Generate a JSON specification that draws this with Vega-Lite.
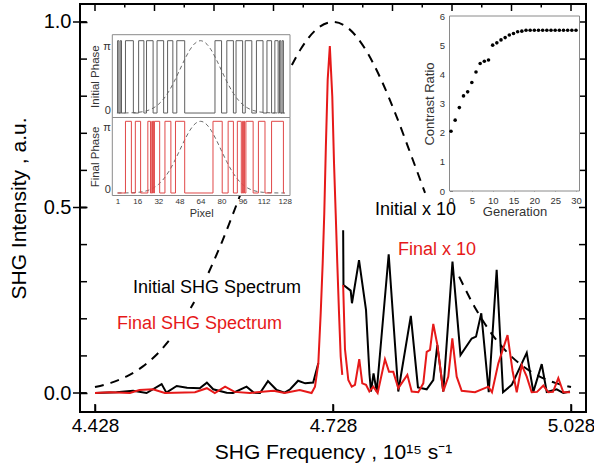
{
  "$schema": "https://vega.github.io/schema/vega-lite/v6.json",
  "width": 506,
  "height": 408,
  "autosize": "none",
  "padding": {"left": 80, "top": 4, "right": 8, "bottom": 51},
  "background": "white",
  "config": {
    "view": {"stroke": "black", "strokeWidth": 2},
    "font": "Liberation Sans",
    "axis": {"zindex": 1, "grid": false, "domain": false, "ticks": true, "labelFont": "Liberation Sans", "titleFont": "Liberation Sans", "titleFontWeight": "normal", "labelColor": "black", "titleColor": "black", "tickColor": "black"}
  },
  "datasets": {
    "spec": [
      {"series": "Initial", "f": 4.428, "v": 0}, {"series": "Initial", "f": 4.455, "v": 0.002}, {"series": "Initial", "f": 4.476, "v": 0.006}, {"series": "Initial", "f": 4.493, "v": 0}, {"series": "Initial", "f": 4.512, "v": 0.024}, {"series": "Initial", "f": 4.518, "v": 0.001}, {"series": "Initial", "f": 4.531, "v": 0.019}, {"series": "Initial", "f": 4.544, "v": 0.014}, {"series": "Initial", "f": 4.56, "v": 0.013}, {"series": "Initial", "f": 4.569, "v": 0.028}, {"series": "Initial", "f": 4.577, "v": 0.01}, {"series": "Initial", "f": 4.594, "v": 0.001}, {"series": "Initial", "f": 4.602, "v": 0}, {"series": "Initial", "f": 4.619, "v": 0.017}, {"series": "Initial", "f": 4.628, "v": 0.001}, {"series": "Initial", "f": 4.636, "v": 0}, {"series": "Initial", "f": 4.646, "v": 0.032}, {"series": "Initial", "f": 4.657, "v": 0.008}, {"series": "Initial", "f": 4.667, "v": 0.001}, {"series": "Initial", "f": 4.674, "v": 0.01}, {"series": "Initial", "f": 4.684, "v": 0.033}, {"series": "Initial", "f": 4.693, "v": 0.026}, {"series": "Initial", "f": 4.703, "v": 0.028}, {"series": "Initial", "f": 4.7095, "v": 0.08},
      {"series": "Initial x 10", "f": 4.7408, "v": 0.439}, {"series": "Initial x 10", "f": 4.7412, "v": 0.291}, {"series": "Initial x 10", "f": 4.7503, "v": 0.276}, {"series": "Initial x 10", "f": 4.7519, "v": 0.242}, {"series": "Initial x 10", "f": 4.7608, "v": 0.358}, {"series": "Initial x 10", "f": 4.7696, "v": 0.224}, {"series": "Initial x 10", "f": 4.774, "v": 0.05}, {"series": "Initial x 10", "f": 4.7759, "v": 0.004}, {"series": "Initial x 10", "f": 4.7791, "v": 0.053}, {"series": "Initial x 10", "f": 4.7831, "v": 0.004}, {"series": "Initial x 10", "f": 4.7982, "v": 0.374}, {"series": "Initial x 10", "f": 4.8103, "v": 0.004}, {"series": "Initial x 10", "f": 4.8261, "v": 0.208}, {"series": "Initial x 10", "f": 4.8351, "v": 0.015}, {"series": "Initial x 10", "f": 4.8461, "v": 0.01}, {"series": "Initial x 10", "f": 4.8544, "v": 0.035}, {"series": "Initial x 10", "f": 4.8595, "v": 0.129}, {"series": "Initial x 10", "f": 4.867, "v": 0.004}, {"series": "Initial x 10", "f": 4.8786, "v": 0.354}, {"series": "Initial x 10", "f": 4.8887, "v": 0.102}, {"series": "Initial x 10", "f": 4.9028, "v": 0.147}, {"series": "Initial x 10", "f": 4.9083, "v": 0.152}, {"series": "Initial x 10", "f": 4.9149, "v": 0.215}, {"series": "Initial x 10", "f": 4.9243, "v": 0.002}, {"series": "Initial x 10", "f": 4.9343, "v": 0.332}, {"series": "Initial x 10", "f": 4.9423, "v": 0.002}, {"series": "Initial x 10", "f": 4.9533, "v": 0.022}, {"series": "Initial x 10", "f": 4.9722, "v": 0.108}, {"series": "Initial x 10", "f": 4.9805, "v": 0.003}, {"series": "Initial x 10", "f": 4.9911, "v": 0.078}, {"series": "Initial x 10", "f": 4.9974, "v": 0.003}, {"series": "Initial x 10", "f": 5.01, "v": 0.01}, {"series": "Initial x 10", "f": 5.0183, "v": 0}, {"series": "Initial x 10", "f": 5.0267, "v": 0.004},
      {"series": "Final", "f": 4.428, "v": 0}, {"series": "Final", "f": 4.447, "v": 0.002}, {"series": "Final", "f": 4.472, "v": 0}, {"series": "Final", "f": 4.484, "v": 0.008}, {"series": "Final", "f": 4.501, "v": 0.01}, {"series": "Final", "f": 4.516, "v": 0}, {"series": "Final", "f": 4.554, "v": 0.002}, {"series": "Final", "f": 4.569, "v": 0.013}, {"series": "Final", "f": 4.579, "v": 0}, {"series": "Final", "f": 4.592, "v": 0.017}, {"series": "Final", "f": 4.604, "v": 0.003}, {"series": "Final", "f": 4.623, "v": 0}, {"series": "Final", "f": 4.653, "v": 0.006}, {"series": "Final", "f": 4.667, "v": 0}, {"series": "Final", "f": 4.686, "v": 0.008}, {"series": "Final", "f": 4.701, "v": 0}, {"series": "Final", "f": 4.7053, "v": 0.017}, {"series": "Final", "f": 4.7095, "v": 0.08}, {"series": "Final", "f": 4.7125, "v": 0.215}, {"series": "Final", "f": 4.715, "v": 0.35}, {"series": "Final", "f": 4.717, "v": 0.484}, {"series": "Final", "f": 4.719, "v": 0.664}, {"series": "Final", "f": 4.7213, "v": 0.844}, {"series": "Final", "f": 4.724, "v": 0.935}, {"series": "Final", "f": 4.7271, "v": 0.799}, {"series": "Final", "f": 4.7293, "v": 0.619}, {"series": "Final", "f": 4.7314, "v": 0.484}, {"series": "Final", "f": 4.7334, "v": 0.35}, {"series": "Final", "f": 4.7356, "v": 0.215}, {"series": "Final", "f": 4.7377, "v": 0.098}, {"series": "Final", "f": 4.7397, "v": 0.049},
      {"series": "Final x 10", "f": 4.7408, "v": 0.291}, {"series": "Final x 10", "f": 4.7431, "v": 0.118}, {"series": "Final x 10", "f": 4.7473, "v": 0.035}, {"series": "Final x 10", "f": 4.7516, "v": 0.017}, {"series": "Final x 10", "f": 4.7557, "v": 0.022}, {"series": "Final x 10", "f": 4.7611, "v": 0.091}, {"series": "Final x 10", "f": 4.7649, "v": 0.026}, {"series": "Final x 10", "f": 4.7696, "v": 0.022}, {"series": "Final x 10", "f": 4.7738, "v": 0.004}, {"series": "Final x 10", "f": 4.7788, "v": 0.017}, {"series": "Final x 10", "f": 4.7843, "v": 0}, {"series": "Final x 10", "f": 4.7935, "v": 0.091}, {"series": "Final x 10", "f": 4.7986, "v": 0.057}, {"series": "Final x 10", "f": 4.804, "v": 0.057}, {"series": "Final x 10", "f": 4.8103, "v": 0.013}, {"series": "Final x 10", "f": 4.8217, "v": 0.049}, {"series": "Final x 10", "f": 4.8272, "v": 0.004}, {"series": "Final x 10", "f": 4.8355, "v": 0.002}, {"series": "Final x 10", "f": 4.8418, "v": 0.026}, {"series": "Final x 10", "f": 4.8461, "v": 0.111}, {"series": "Final x 10", "f": 4.8503, "v": 0.116}, {"series": "Final x 10", "f": 4.8544, "v": 0.186}, {"series": "Final x 10", "f": 4.8595, "v": 0.13}, {"series": "Final x 10", "f": 4.867, "v": 0.004}, {"series": "Final x 10", "f": 4.8733, "v": 0.044}, {"series": "Final x 10", "f": 4.8784, "v": 0.147}, {"series": "Final x 10", "f": 4.8839, "v": 0.044}, {"series": "Final x 10", "f": 4.8902, "v": 0.006}, {"series": "Final x 10", "f": 4.907, "v": 0.002}, {"series": "Final x 10", "f": 4.9238, "v": 0.017}, {"series": "Final x 10", "f": 4.9284, "v": 0.002}, {"series": "Final x 10", "f": 4.9364, "v": 0.08}, {"series": "Final x 10", "f": 4.948, "v": 0.156}, {"series": "Final x 10", "f": 4.9543, "v": 0.06}, {"series": "Final x 10", "f": 4.9596, "v": 0.002}, {"series": "Final x 10", "f": 4.9659, "v": 0.075}, {"series": "Final x 10", "f": 4.9722, "v": 0.044}, {"series": "Final x 10", "f": 4.9784, "v": 0.002}, {"series": "Final x 10", "f": 4.9852, "v": 0.003}, {"series": "Final x 10", "f": 4.9931, "v": 0.02}, {"series": "Final x 10", "f": 4.9994, "v": 0.002}, {"series": "Final x 10", "f": 5.0053, "v": 0.003}, {"series": "Final x 10", "f": 5.012, "v": 0.04}, {"series": "Final x 10", "f": 5.0183, "v": 0.002}, {"series": "Final x 10", "f": 5.0267, "v": 0.002}
    ],
    "gauss": [
      {"seg": 1, "f": 4.428, "v": 0.0161}, {"seg": 1, "f": 4.448, "v": 0.0274}, {"seg": 1, "f": 4.468, "v": 0.045}, {"seg": 1, "f": 4.488, "v": 0.0712}, {"seg": 1, "f": 4.508, "v": 0.1086}, {"seg": 1, "f": 4.525, "v": 0.151},
      {"seg": 2, "f": 4.5487, "v": 0.229}, {"seg": 2, "f": 4.553, "v": 0.2453},
      {"seg": 3, "f": 4.571, "v": 0.3235}, {"seg": 3, "f": 4.588, "v": 0.4069}, {"seg": 3, "f": 4.608, "v": 0.5166}, {"seg": 3, "f": 4.628, "v": 0.6321}, {"seg": 3, "f": 4.648, "v": 0.7456}, {"seg": 3, "f": 4.668, "v": 0.8478}, {"seg": 3, "f": 4.688, "v": 0.9292}, {"seg": 3, "f": 4.708, "v": 0.9818}, {"seg": 3, "f": 4.728, "v": 1.0}, {"seg": 3, "f": 4.748, "v": 0.9818}, {"seg": 3, "f": 4.768, "v": 0.9292}, {"seg": 3, "f": 4.788, "v": 0.8478}, {"seg": 3, "f": 4.808, "v": 0.7456}, {"seg": 3, "f": 4.828, "v": 0.6321}, {"seg": 3, "f": 4.844, "v": 0.5394},
      {"seg": 4, "f": 4.887, "v": 0.3136}, {"seg": 4, "f": 4.908, "v": 0.2263}, {"seg": 4, "f": 4.928, "v": 0.1596}, {"seg": 4, "f": 4.948, "v": 0.1086}, {"seg": 4, "f": 4.968, "v": 0.0712}, {"seg": 4, "f": 4.988, "v": 0.045}, {"seg": 4, "f": 5.008, "v": 0.0274}, {"seg": 4, "f": 5.028, "v": 0.0161}
    ],
    "labels": [
      {"text": "Initial SHG Spectrum", "f": 4.4759, "v": 0.2695, "kind": "Initial"},
      {"text": "Final SHG Spectrum", "f": 4.4557, "v": 0.1725, "kind": "Final"},
      {"text": "Initial x 10", "f": 4.7809, "v": 0.4798, "kind": "Initial"},
      {"text": "Final x 10", "f": 4.8099, "v": 0.372, "kind": "Final"}
    ],
    "tickBottom": [{"f": 4.428, "v": -0.0512}, {"f": 4.728, "v": -0.0512}, {"f": 5.028, "v": -0.0512}],
    "tickTopMajor": [{"f": 4.428, "v": 1.0485}, {"f": 4.503, "v": 1.0485}, {"f": 4.578, "v": 1.0485}, {"f": 4.653, "v": 1.0485}, {"f": 4.728, "v": 1.0485}, {"f": 4.803, "v": 1.0485}, {"f": 4.878, "v": 1.0485}, {"f": 4.953, "v": 1.0485}, {"f": 5.028, "v": 1.0485}],
    "tickTopMinor": [{"f": 4.4655, "v": 1.0485}, {"f": 4.5405, "v": 1.0485}, {"f": 4.6155, "v": 1.0485}, {"f": 4.6905, "v": 1.0485}, {"f": 4.7655, "v": 1.0485}, {"f": 4.8405, "v": 1.0485}, {"f": 4.9155, "v": 1.0485}, {"f": 4.9905, "v": 1.0485}],
    "tickLeft": [{"f": 4.4091, "v": 0}, {"f": 4.4091, "v": 0.1}, {"f": 4.4091, "v": 0.2}, {"f": 4.4091, "v": 0.3}, {"f": 4.4091, "v": 0.4}, {"f": 4.4091, "v": 0.5}, {"f": 4.4091, "v": 0.6}, {"f": 4.4091, "v": 0.7}, {"f": 4.4091, "v": 0.8}, {"f": 4.4091, "v": 0.9}, {"f": 4.4091, "v": 1.0}],
    "tickLeftMajor": [{"f": 4.4091, "v": 0}, {"f": 4.4091, "v": 0.5}, {"f": 4.4091, "v": 1.0}],
    "tickRight": [{"f": 5.0469, "v": 0}, {"f": 5.0469, "v": 0.1}, {"f": 5.0469, "v": 0.2}, {"f": 5.0469, "v": 0.3}, {"f": 5.0469, "v": 0.4}, {"f": 5.0469, "v": 0.5}, {"f": 5.0469, "v": 0.6}, {"f": 5.0469, "v": 0.7}, {"f": 5.0469, "v": 0.8}, {"f": 5.0469, "v": 0.9}, {"f": 5.0469, "v": 1.0}],
    "gaussPix": [
      {"p": 1, "g": 0.0003}, {"p": 8, "g": 0.0015}, {"p": 16, "g": 0.0083}, {"p": 20, "g": 0.0178}, {"p": 24, "g": 0.0358}, {"p": 28, "g": 0.0674}, {"p": 32, "g": 0.1187}, {"p": 36, "g": 0.1956}, {"p": 40, "g": 0.3016}, {"p": 44, "g": 0.435}, {"p": 48, "g": 0.587}, {"p": 52, "g": 0.741}, {"p": 56, "g": 0.875}, {"p": 60, "g": 0.967}, {"p": 64, "g": 1.0}, {"p": 68, "g": 0.967}, {"p": 72, "g": 0.875}, {"p": 76, "g": 0.741}, {"p": 80, "g": 0.587}, {"p": 84, "g": 0.435}, {"p": 88, "g": 0.3016}, {"p": 92, "g": 0.1956}, {"p": 96, "g": 0.1187}, {"p": 100, "g": 0.0674}, {"p": 104, "g": 0.0358}, {"p": 108, "g": 0.0178}, {"p": 112, "g": 0.0083}, {"p": 120, "g": 0.0015}, {"p": 128, "g": 0.0002}
    ],
    "phaseInit": [
      {"p": 0.5, "v": 0}, {"p": 1, "v": 1}, {"p": 2, "v": 0}, {"p": 3, "v": 1}, {"p": 4, "v": 0}, {"p": 7, "v": 1}, {"p": 13, "v": 0}, {"p": 17, "v": 1}, {"p": 21, "v": 0}, {"p": 23, "v": 1}, {"p": 28, "v": 0}, {"p": 31, "v": 1}, {"p": 36, "v": 0}, {"p": 39, "v": 1}, {"p": 43, "v": 0}, {"p": 46, "v": 1}, {"p": 52, "v": 0}, {"p": 75, "v": 1}, {"p": 80, "v": 0}, {"p": 84, "v": 1}, {"p": 89, "v": 0}, {"p": 91, "v": 1}, {"p": 96, "v": 0}, {"p": 98, "v": 1}, {"p": 103, "v": 0}, {"p": 106.5, "v": 1}, {"p": 111.5, "v": 0}, {"p": 114.5, "v": 1}, {"p": 118, "v": 0}, {"p": 120.5, "v": 1}, {"p": 123, "v": 0}, {"p": 124, "v": 1}, {"p": 125, "v": 0}, {"p": 126, "v": 1}, {"p": 127, "v": 0}, {"p": 128, "v": 0}
    ],
    "phaseFinal": [
      {"p": 1, "v": 0}, {"p": 7, "v": 1}, {"p": 11.5, "v": 0}, {"p": 14.5, "v": 1}, {"p": 18.5, "v": 0}, {"p": 24, "v": 1}, {"p": 26, "v": 0}, {"p": 27, "v": 1}, {"p": 27.5, "v": 0}, {"p": 28, "v": 1}, {"p": 28.5, "v": 0}, {"p": 29, "v": 1}, {"p": 33, "v": 0}, {"p": 37, "v": 1}, {"p": 41.5, "v": 0}, {"p": 45, "v": 1}, {"p": 52, "v": 0}, {"p": 73.5, "v": 1}, {"p": 80.5, "v": 0}, {"p": 85, "v": 1}, {"p": 89, "v": 0}, {"p": 92, "v": 1}, {"p": 95, "v": 0}, {"p": 96, "v": 1}, {"p": 96.5, "v": 0}, {"p": 97, "v": 1}, {"p": 97.5, "v": 0}, {"p": 98.5, "v": 1}, {"p": 104, "v": 0}, {"p": 108, "v": 1}, {"p": 113, "v": 0}, {"p": 118, "v": 1}, {"p": 127, "v": 0}, {"p": 128, "v": 0}
    ],
    "contrast": [
      {"gen": 0, "ratio": 2.05}, {"gen": 1, "ratio": 2.43}, {"gen": 2, "ratio": 2.86}, {"gen": 3, "ratio": 3.26}, {"gen": 4, "ratio": 3.4}, {"gen": 5, "ratio": 3.72}, {"gen": 6, "ratio": 4.08}, {"gen": 7, "ratio": 4.37}, {"gen": 8, "ratio": 4.45}, {"gen": 9, "ratio": 4.49}, {"gen": 10, "ratio": 5.0}, {"gen": 11, "ratio": 5.08}, {"gen": 12, "ratio": 5.18}, {"gen": 13, "ratio": 5.26}, {"gen": 14, "ratio": 5.35}, {"gen": 15, "ratio": 5.4}, {"gen": 16, "ratio": 5.46}, {"gen": 17, "ratio": 5.48}, {"gen": 18, "ratio": 5.51}, {"gen": 19, "ratio": 5.51}, {"gen": 20, "ratio": 5.51}, {"gen": 21, "ratio": 5.51}, {"gen": 22, "ratio": 5.51}, {"gen": 23, "ratio": 5.51}, {"gen": 24, "ratio": 5.51}, {"gen": 25, "ratio": 5.51}, {"gen": 26, "ratio": 5.51}, {"gen": 27, "ratio": 5.51}, {"gen": 28, "ratio": 5.51}, {"gen": 29, "ratio": 5.51}, {"gen": 30, "ratio": 5.51}
    ]
  },
  "layer": [
    {
      "data": {"name": "gauss"},
      "mark": {"type": "line", "color": "black", "strokeWidth": 2, "strokeDash": [9, 7], "interpolate": "monotone"},
      "encoding": {
        "x": {"field": "f", "type": "quantitative", "scale": {"domain": [4.4091, 5.0469], "nice": false, "zero": false},
              "axis": {"orient": "bottom", "offset": -8, "values": [4.428, 4.728, 5.028], "format": ".3f", "tickSize": 8, "tickWidth": 1.5, "labelFontSize": 19, "labelPadding": 4, "title": "SHG Frequency , 10¹⁵ s⁻¹", "titleFontSize": 21, "titlePadding": 6}},
        "y": {"field": "v", "type": "quantitative", "scale": {"domain": [-0.0512, 1.0485], "nice": false, "zero": false},
              "axis": {"orient": "left", "offset": -7, "values": [0, 0.5, 1], "format": ".1f", "tickSize": 7, "tickWidth": 1.5, "labelFontSize": 20, "labelPadding": 9, "title": "SHG Intensity , a.u.", "titleFontSize": 21, "titlePadding": 14}},
        "detail": {"field": "seg"}
      }
    },
    {
      "data": {"name": "tickBottom"},
      "mark": {"type": "point", "shape": "stroke", "filled": false, "angle": 90, "size": 64, "strokeWidth": 1.5, "color": "black", "opacity": 1, "yOffset": -4},
      "encoding": {
        "x": {"field": "f", "type": "quantitative", "scale": {"domain": [4.4091, 5.0469], "nice": false, "zero": false}, "axis": null},
        "y": {"field": "v", "type": "quantitative", "scale": {"domain": [-0.0512, 1.0485], "nice": false, "zero": false}, "axis": null}
      }
    },
    {
      "data": {"name": "tickTopMajor"},
      "mark": {"type": "point", "shape": "stroke", "filled": false, "angle": 90, "size": 49, "strokeWidth": 1.5, "color": "black", "opacity": 1, "yOffset": 3.5},
      "encoding": {
        "x": {"field": "f", "type": "quantitative", "scale": {"domain": [4.4091, 5.0469], "nice": false, "zero": false}, "axis": null},
        "y": {"field": "v", "type": "quantitative", "scale": {"domain": [-0.0512, 1.0485], "nice": false, "zero": false}, "axis": null}
      }
    },
    {
      "data": {"name": "tickTopMinor"},
      "mark": {"type": "point", "shape": "stroke", "filled": false, "angle": 90, "size": 12.25, "strokeWidth": 1.5, "color": "black", "opacity": 1, "yOffset": 1.75},
      "encoding": {
        "x": {"field": "f", "type": "quantitative", "scale": {"domain": [4.4091, 5.0469], "nice": false, "zero": false}, "axis": null},
        "y": {"field": "v", "type": "quantitative", "scale": {"domain": [-0.0512, 1.0485], "nice": false, "zero": false}, "axis": null}
      }
    },
    {
      "data": {"name": "tickLeft"},
      "mark": {"type": "point", "shape": "stroke", "filled": false, "size": 49, "strokeWidth": 1.5, "color": "black", "opacity": 1, "xOffset": 3.5},
      "encoding": {
        "x": {"field": "f", "type": "quantitative", "scale": {"domain": [4.4091, 5.0469], "nice": false, "zero": false}, "axis": null},
        "y": {"field": "v", "type": "quantitative", "scale": {"domain": [-0.0512, 1.0485], "nice": false, "zero": false}, "axis": null}
      }
    },
    {
      "data": {"name": "tickLeftMajor"},
      "mark": {"type": "point", "shape": "stroke", "filled": false, "size": 169, "strokeWidth": 1.5, "color": "black", "opacity": 1, "xOffset": -0.5},
      "encoding": {
        "x": {"field": "f", "type": "quantitative", "scale": {"domain": [4.4091, 5.0469], "nice": false, "zero": false}, "axis": null},
        "y": {"field": "v", "type": "quantitative", "scale": {"domain": [-0.0512, 1.0485], "nice": false, "zero": false}, "axis": null}
      }
    },
    {
      "data": {"name": "tickRight"},
      "mark": {"type": "point", "shape": "stroke", "filled": false, "size": 49, "strokeWidth": 1.5, "color": "black", "opacity": 1, "xOffset": -3.5},
      "encoding": {
        "x": {"field": "f", "type": "quantitative", "scale": {"domain": [4.4091, 5.0469], "nice": false, "zero": false}, "axis": null},
        "y": {"field": "v", "type": "quantitative", "scale": {"domain": [-0.0512, 1.0485], "nice": false, "zero": false}, "axis": null}
      }
    },
    {
      "data": {"name": "spec"},
      "transform": [{"filter": {"field": "series", "oneOf": ["Initial", "Initial x 10"]}}],
      "mark": {"type": "line", "color": "black", "strokeWidth": 2},
      "encoding": {
        "x": {"field": "f", "type": "quantitative", "scale": {"domain": [4.4091, 5.0469], "nice": false, "zero": false}, "axis": null},
        "y": {"field": "v", "type": "quantitative", "scale": {"domain": [-0.0512, 1.0485], "nice": false, "zero": false}, "axis": null},
        "detail": {"field": "series"}
      }
    },
    {
      "data": {"name": "spec"},
      "transform": [{"filter": {"field": "series", "oneOf": ["Final", "Final x 10"]}}],
      "mark": {"type": "line", "color": "#e61919", "strokeWidth": 2},
      "encoding": {
        "x": {"field": "f", "type": "quantitative", "scale": {"domain": [4.4091, 5.0469], "nice": false, "zero": false}, "axis": null},
        "y": {"field": "v", "type": "quantitative", "scale": {"domain": [-0.0512, 1.0485], "nice": false, "zero": false}, "axis": null},
        "detail": {"field": "series"}
      }
    },
    {
      "data": {"name": "labels"},
      "mark": {"type": "text", "align": "left", "baseline": "alphabetic", "fontSize": 18, "font": "Liberation Sans"},
      "encoding": {
        "x": {"field": "f", "type": "quantitative", "scale": {"domain": [4.4091, 5.0469], "nice": false, "zero": false}, "axis": null},
        "y": {"field": "v", "type": "quantitative", "scale": {"domain": [-0.0512, 1.0485], "nice": false, "zero": false}, "axis": null},
        "text": {"field": "text"},
        "color": {"field": "kind", "type": "nominal", "scale": {"domain": ["Initial", "Final"], "range": ["black", "#e61919"]}, "legend": null}
      }
    },
    {
      "data": {"values": [{}]},
      "mark": {"type": "rect", "fill": "white", "stroke": "#8a8a8a", "strokeWidth": 1},
      "encoding": {
        "x": {"datum": -3, "type": "quantitative", "scale": {"domain": [-3, 132], "range": [32.3, 210], "nice": false, "zero": false}, "axis": null},
        "x2": {"datum": 132},
        "y": {"datum": -0.062, "type": "quantitative", "scale": {"domain": [-0.062, 1.083], "range": [113.5, 30.7], "nice": false, "zero": false}, "axis": null},
        "y2": {"datum": 1.083}
      }
    },
    {
      "data": {"name": "gaussPix"},
      "mark": {"type": "line", "color": "#444", "strokeWidth": 0.8, "strokeDash": [4, 3], "interpolate": "monotone"},
      "encoding": {
        "x": {"field": "p", "type": "quantitative", "scale": {"domain": [-3, 132], "range": [32.3, 210], "nice": false, "zero": false}, "axis": null},
        "y": {"field": "g", "type": "quantitative", "scale": {"domain": [-0.062, 1.083], "range": [113.5, 30.7], "nice": false, "zero": false}, "axis": null}
      }
    },
    {
      "data": {"name": "phaseInit"},
      "mark": {"type": "line", "color": "#5f5f5f", "strokeWidth": 1, "interpolate": "step-after"},
      "encoding": {
        "x": {"field": "p", "type": "quantitative", "scale": {"domain": [-3, 132], "range": [32.3, 210], "nice": false, "zero": false}, "axis": null},
        "y": {"field": "v", "type": "quantitative", "scale": {"domain": [-0.062, 1.083], "range": [113.5, 30.7], "nice": false, "zero": false},
              "axis": {"orient": "left", "offset": -35.3, "values": [0, 1], "labelExpr": "datum.value == 1 ? 'π' : '0'", "labelBaseline": {"condition": {"test": "datum.value == 1", "value": "top"}, "value": "alphabetic"}, "tickSize": 3, "tickColor": "#777", "tickWidth": 1, "labelFontSize": 11, "labelColor": "#333", "labelPadding": 2, "title": "Initial Phase", "titleFontSize": 11.5, "titleColor": "#333", "titlePadding": 2}}
      }
    },
    {
      "data": {"values": [{}]},
      "mark": {"type": "rect", "fill": "white", "stroke": "#8a8a8a", "strokeWidth": 1},
      "encoding": {
        "x": {"datum": -3, "type": "quantitative", "scale": {"domain": [-3, 132], "range": [32.3, 210], "nice": false, "zero": false}, "axis": null},
        "x2": {"datum": 132},
        "y": {"datum": -0.035, "type": "quantitative", "scale": {"domain": [-0.035, 1.053], "range": [191.5, 113.5], "nice": false, "zero": false}, "axis": null},
        "y2": {"datum": 1.053}
      }
    },
    {
      "data": {"name": "gaussPix"},
      "mark": {"type": "line", "color": "#444", "strokeWidth": 0.8, "strokeDash": [4, 3], "interpolate": "monotone"},
      "encoding": {
        "x": {"field": "p", "type": "quantitative", "scale": {"domain": [-3, 132], "range": [32.3, 210], "nice": false, "zero": false}, "axis": null},
        "y": {"field": "g", "type": "quantitative", "scale": {"domain": [-0.035, 1.053], "range": [191.5, 113.5], "nice": false, "zero": false}, "axis": null}
      }
    },
    {
      "data": {"name": "phaseFinal"},
      "mark": {"type": "line", "color": "#e04848", "strokeWidth": 1, "interpolate": "step-after"},
      "encoding": {
        "x": {"field": "p", "type": "quantitative", "scale": {"domain": [-3, 132], "range": [32.3, 210], "nice": false, "zero": false},
              "axis": {"orient": "bottom", "offset": -219.5, "values": [1, 16, 32, 48, 64, 80, 96, 112, 128], "tickSize": 3, "tickColor": "#777", "tickWidth": 1, "labelFontSize": 8, "labelColor": "#333", "labelPadding": 2, "title": "Pixel", "titleFontSize": 11, "titleColor": "#333", "titlePadding": 2}},
        "y": {"field": "v", "type": "quantitative", "scale": {"domain": [-0.035, 1.053], "range": [191.5, 113.5], "nice": false, "zero": false},
              "axis": {"orient": "left", "offset": -35.3, "values": [0, 1], "labelExpr": "datum.value == 1 ? 'π' : '0'", "labelBaseline": {"condition": {"test": "datum.value == 1", "value": "top"}, "value": "alphabetic"}, "tickSize": 3, "tickColor": "#777", "tickWidth": 1, "labelFontSize": 11, "labelColor": "#333", "labelPadding": 2, "title": "Final Phase", "titleFontSize": 11.5, "titleColor": "#333", "titlePadding": 2}}
      }
    },
    {
      "data": {"values": [{}]},
      "mark": {"type": "rect", "fill": "white", "stroke": "#8a8a8a", "strokeWidth": 1},
      "encoding": {
        "x": {"datum": -0.36, "type": "quantitative", "scale": {"domain": [-0.36, 30.84], "range": [369.5, 499.5], "nice": false, "zero": false}, "axis": null},
        "x2": {"datum": 30.84},
        "y": {"datum": 0, "type": "quantitative", "scale": {"domain": [0, 6], "range": [187, 12], "nice": false, "zero": false}, "axis": null},
        "y2": {"datum": 6}
      }
    },
    {
      "data": {"name": "contrast"},
      "mark": {"type": "circle", "color": "black", "size": 13, "opacity": 1},
      "encoding": {
        "x": {"field": "gen", "type": "quantitative", "scale": {"domain": [-0.36, 30.84], "range": [369.5, 499.5], "nice": false, "zero": false},
              "axis": {"orient": "bottom", "offset": -224, "values": [0, 5, 10, 15, 20, 25, 30], "tickSize": 3, "tickColor": "#777", "tickWidth": 1, "labelFontSize": 9.5, "labelColor": "#333", "labelPadding": 4, "title": "Generation", "titleFontSize": 13, "titleColor": "#333", "titlePadding": 1}},
        "y": {"field": "ratio", "type": "quantitative", "scale": {"domain": [0, 6], "range": [187, 12], "nice": false, "zero": false},
              "axis": {"orient": "left", "offset": -372.5, "values": [0, 1, 2, 3, 4, 5, 6], "tickSize": 3, "tickColor": "#777", "tickWidth": 1, "labelFontSize": 9.5, "labelColor": "#333", "labelPadding": 5, "title": "Contrast Ratio", "titleFontSize": 13, "titleColor": "#333", "titlePadding": 3}}
      }
    }
  ],
  "resolve": {"scale": {"x": "independent", "y": "independent", "color": "independent"}, "axis": {"x": "independent", "y": "independent"}}
}
